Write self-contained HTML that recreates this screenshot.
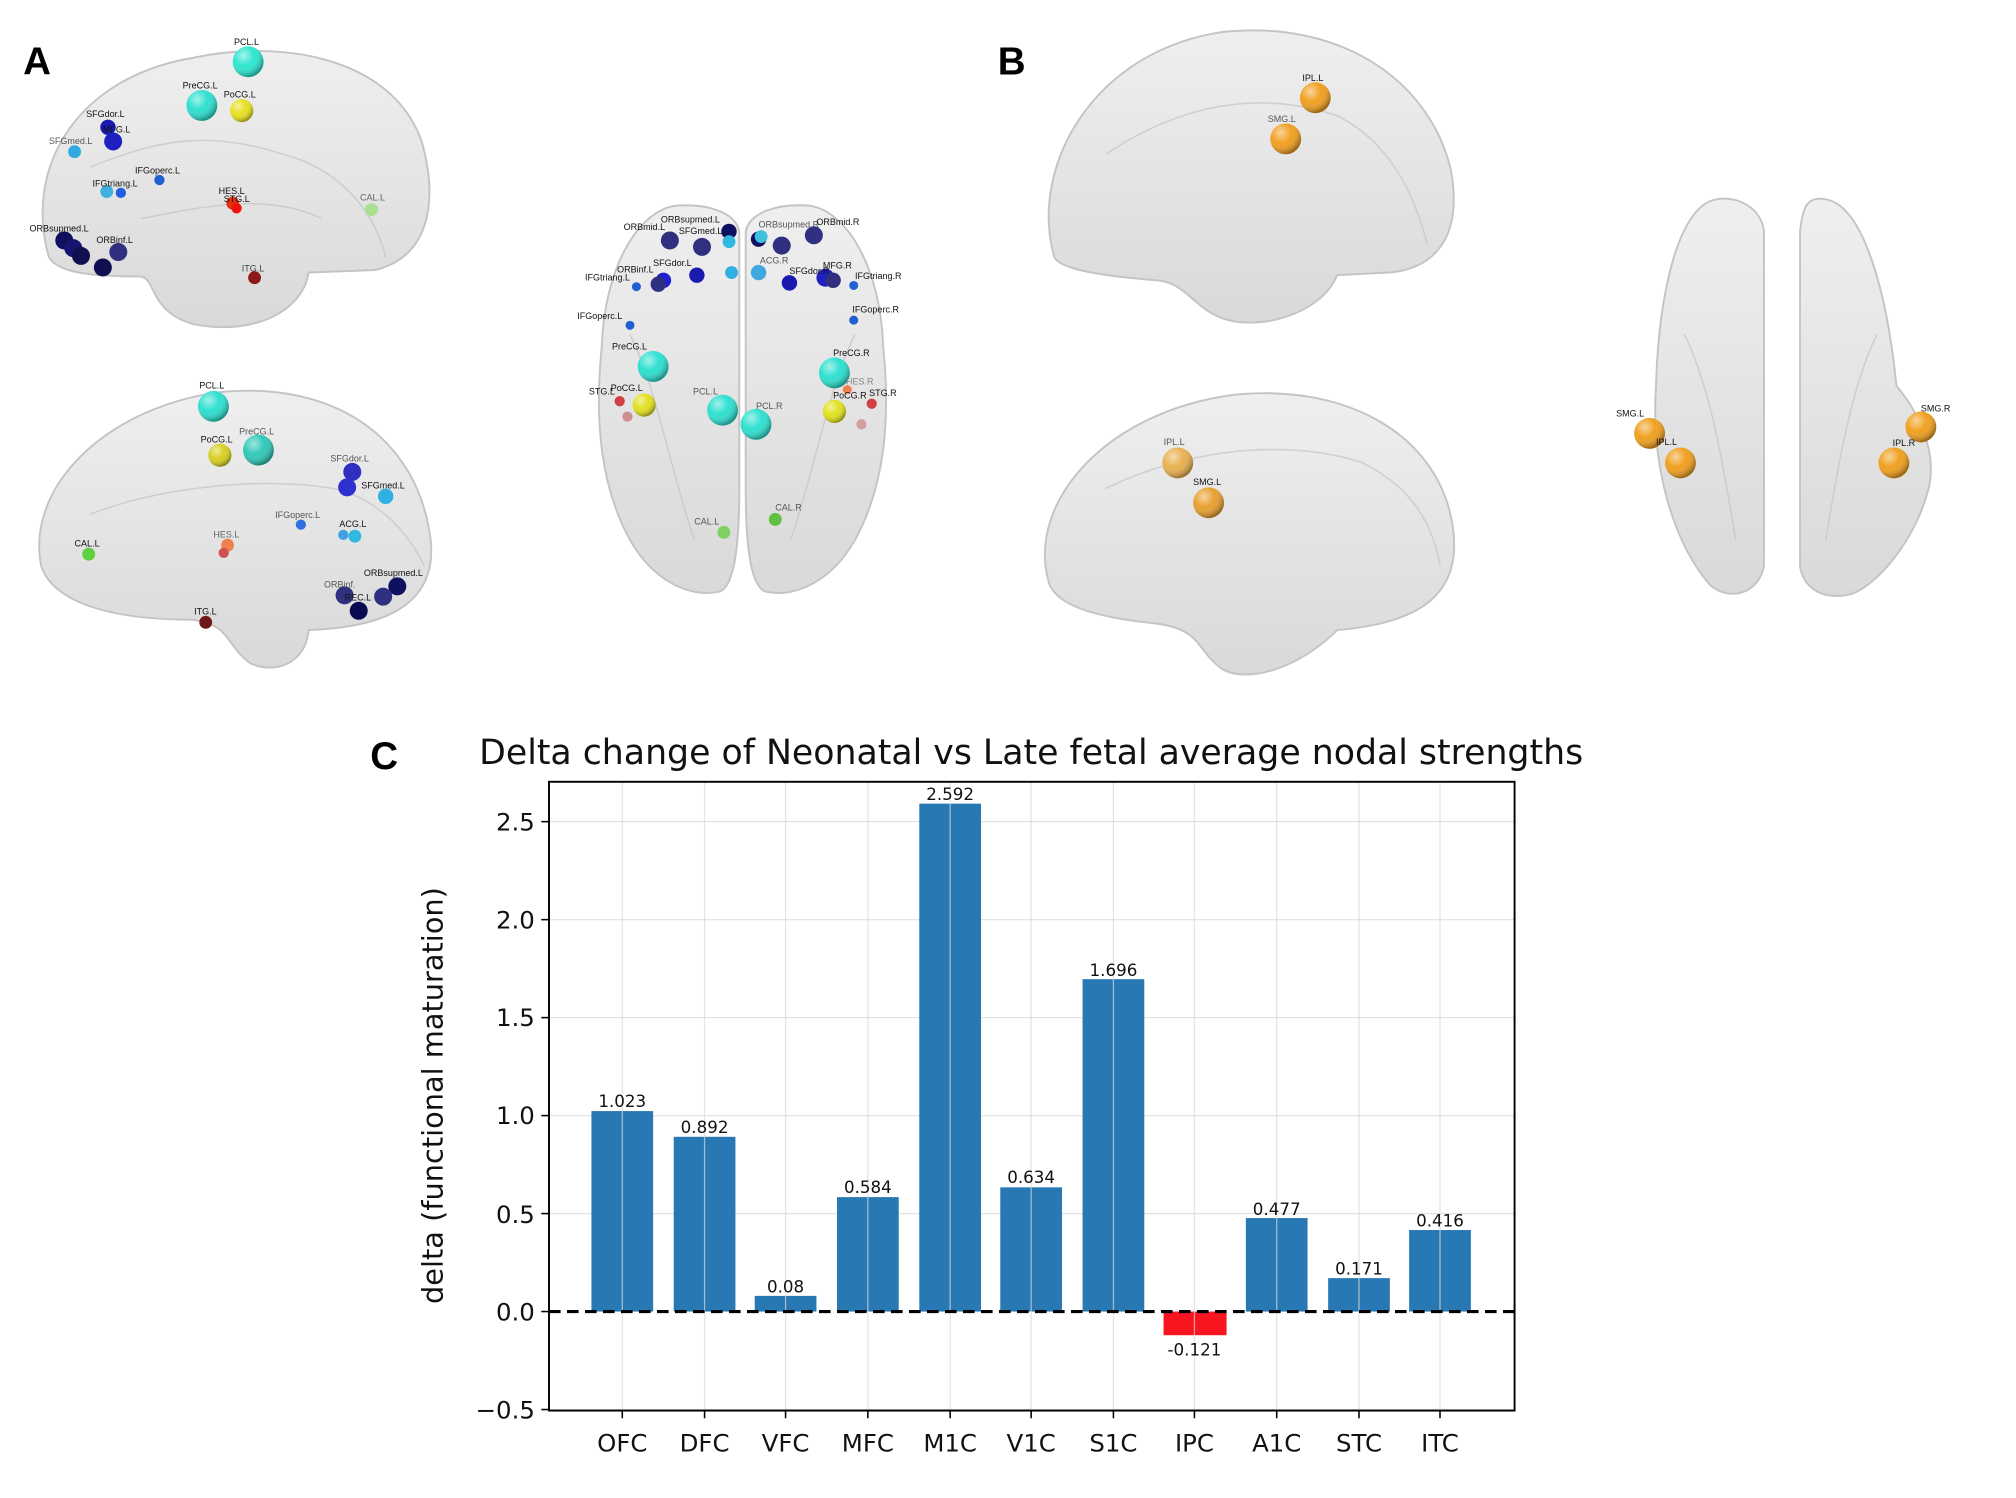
<!DOCTYPE html>
<html><head><meta charset="utf-8"><style>
html,body{margin:0;padding:0;background:#fff;}
svg{display:block;}
text{font-family:"Liberation Sans","DejaVu Sans",sans-serif;}
.dv text, text.dv{font-family:"DejaVu Sans","Liberation Sans",sans-serif;}
</style></head><body>
<svg width="2016" height="1498" viewBox="0 0 1568 1165" preserveAspectRatio="none" xmlns="http://www.w3.org/2000/svg">
<defs>
<radialGradient id="hl" cx="0.35" cy="0.3" r="0.7">
<stop offset="0" stop-color="#fff" stop-opacity="0.55"/>
<stop offset="0.5" stop-color="#fff" stop-opacity="0"/>
<stop offset="1" stop-color="#000" stop-opacity="0.35"/>
</radialGradient>
<linearGradient id="bg" x1="0" y1="0" x2="0" y2="1">
<stop offset="0" stop-color="#efefef"/><stop offset="1" stop-color="#d9d9d9"/>
</linearGradient>
</defs>
<rect width="1568" height="1165" fill="#fff"/>

<text x="18" y="58" font-size="30" font-weight="bold">A</text>
<text x="776" y="58" font-size="30" font-weight="bold">B</text>
<text x="288" y="598" font-size="30" font-weight="bold">C</text>

<g fill="url(#bg)" stroke="#c4c4c4" stroke-width="1.5">
<path d="M38,200 C18,130 60,60 150,45 C220,30 305,45 328,110 C342,160 332,200 292,210 L240,212 C236,240 200,262 150,252 C115,242 122,215 108,215 C70,215 45,212 38,200Z"/>
<path d="M32,440 C20,380 80,318 170,305 C260,296 325,340 335,420 C340,470 300,488 240,490 C238,515 215,525 195,516 C175,502 180,486 150,482 C90,482 42,470 32,440Z"/>
<path d="M525,160 C495,165 470,210 468,270 C462,330 468,380 490,420 C510,455 540,465 560,460 C572,455 575,420 575,380 L575,180 C572,165 550,158 525,160Z"/>
<path d="M630,160 C660,165 685,210 687,270 C693,330 687,380 665,420 C645,455 615,465 595,460 C583,455 580,420 580,380 L580,180 C583,165 605,158 630,160Z"/>
<path d="M820,200 C800,130 850,40 950,25 C1040,15 1110,60 1128,130 C1140,190 1110,210 1080,212 L1040,214 C1030,240 990,255 960,250 C930,245 925,220 900,218 C860,215 825,210 820,200Z"/>
<path d="M815,450 C800,390 860,320 960,307 C1050,298 1120,340 1130,410 C1138,465 1100,485 1040,490 C1010,520 970,532 950,520 C930,505 935,490 900,485 C850,480 818,470 815,450Z"/>
<path d="M1335,155 C1305,160 1290,230 1288,300 C1284,360 1300,420 1330,455 C1345,468 1368,462 1372,440 L1372,180 C1370,162 1352,152 1335,155Z"/>
<path d="M1420,155 C1450,160 1468,230 1475,300 C1500,330 1505,360 1500,380 C1490,420 1460,455 1440,462 C1415,468 1402,455 1400,440 L1400,180 C1402,162 1405,152 1420,155Z"/>
</g>
<g fill="none" stroke="#c8c8c8" stroke-width="1.2" opacity="0.8">
<path d="M70,130 C120,110 160,100 220,120 C260,130 290,160 300,200"/>
<path d="M110,170 C160,160 210,150 250,170"/>
<path d="M70,400 C120,380 200,370 260,380 C300,390 320,420 330,440"/>
<path d="M860,120 C920,80 980,70 1040,90 C1080,110 1100,150 1110,190"/>
<path d="M860,380 C920,350 1000,340 1060,360 C1100,380 1115,410 1120,440"/>
<path d="M1310,260 C1330,300 1340,360 1350,420"/><path d="M1460,260 C1440,300 1430,360 1420,420"/>
<path d="M490,260 C510,300 520,360 540,420"/><path d="M665,260 C645,300 635,360 615,420"/>
</g>

<g>
<circle cx="193" cy="48" r="12" fill="#2ee6d0"/><circle cx="157" cy="82" r="12" fill="#2ee0d0"/><circle cx="188" cy="86" r="9" fill="#e8e020"/>
<circle cx="84" cy="99" r="6" fill="#1a1ab0"/><circle cx="88" cy="110" r="7" fill="#2020c0"/><circle cx="58" cy="118" r="5" fill="#30a8e0"/>
<circle cx="124" cy="140" r="4" fill="#2060d0"/><circle cx="83" cy="149" r="5" fill="#40b0e0"/><circle cx="94" cy="150" r="4" fill="#2060e0"/>
<circle cx="181" cy="158" r="5" fill="#e03010"/><circle cx="184" cy="162" r="4" fill="#f01010"/><circle cx="289" cy="163" r="5" fill="#a8e090"/>
<circle cx="50" cy="187" r="7" fill="#101060"/><circle cx="57" cy="193" r="7" fill="#151570"/><circle cx="63" cy="199" r="7" fill="#101050"/>
<circle cx="92" cy="196" r="7" fill="#303080"/><circle cx="80" cy="208" r="7" fill="#101050"/><circle cx="198" cy="216" r="5" fill="#8a1a1a"/>
<circle cx="166" cy="316" r="12" fill="#2ee0d0"/><circle cx="201" cy="350" r="12" fill="#30c8b8"/><circle cx="171" cy="354" r="9" fill="#d8d020"/>
<circle cx="274" cy="367" r="7" fill="#3030c0"/><circle cx="270" cy="379" r="7" fill="#3030d0"/><circle cx="300" cy="386" r="6" fill="#30b0e0"/>
<circle cx="234" cy="408" r="4" fill="#3070e0"/><circle cx="267" cy="416" r="4" fill="#40a0e0"/><circle cx="276" cy="417" r="5" fill="#30b8e0"/>
<circle cx="177" cy="424" r="5" fill="#f08050"/><circle cx="174" cy="430" r="4" fill="#d05050"/><circle cx="69" cy="431" r="5" fill="#60d040"/>
<circle cx="309" cy="456" r="7" fill="#101060"/><circle cx="298" cy="464" r="7" fill="#303080"/><circle cx="268" cy="463" r="7" fill="#303080"/>
<circle cx="279" cy="475" r="7" fill="#0a0a50"/><circle cx="160" cy="484" r="5" fill="#701818"/>
<circle cx="521" cy="187" r="7" fill="#303080"/><circle cx="546" cy="192" r="7" fill="#303080"/><circle cx="567" cy="180" r="6" fill="#101060"/>
<circle cx="567" cy="188" r="5" fill="#30b8e0"/><circle cx="590" cy="186" r="6" fill="#101060"/><circle cx="592" cy="184" r="5" fill="#40c0e0"/>
<circle cx="608" cy="191" r="7" fill="#303080"/><circle cx="633" cy="183" r="7" fill="#303080"/>
<circle cx="516" cy="218" r="6" fill="#2020d0"/><circle cx="512" cy="221" r="6" fill="#303080"/><circle cx="542" cy="214" r="6" fill="#1a1ab0"/>
<circle cx="569" cy="212" r="5" fill="#30b0e0"/><circle cx="590" cy="212" r="6" fill="#40a8e0"/><circle cx="614" cy="220" r="6" fill="#1a1ab0"/>
<circle cx="642" cy="216" r="7" fill="#2020c0"/><circle cx="648" cy="218" r="6" fill="#303080"/><circle cx="495" cy="223" r="3.5" fill="#2060d0"/><circle cx="664" cy="222" r="3.5" fill="#2060d0"/>
<circle cx="490" cy="253" r="3.5" fill="#2060d0"/><circle cx="664" cy="249" r="3.5" fill="#2060d0"/>
<circle cx="508" cy="285" r="12" fill="#2ee0d0"/><circle cx="649" cy="290" r="12" fill="#2ee0d0"/>
<circle cx="482" cy="312" r="4" fill="#d04040"/><circle cx="488" cy="324" r="4" fill="#d09090"/><circle cx="501" cy="315" r="9" fill="#e0e020"/>
<circle cx="562" cy="319" r="12" fill="#2ee0d0"/><circle cx="588" cy="330" r="12" fill="#2ee0d0"/>
<circle cx="649" cy="320" r="9" fill="#e0e020"/><circle cx="678" cy="314" r="4" fill="#d04040"/><circle cx="670" cy="330" r="4" fill="#d0a0a0"/><circle cx="659" cy="303" r="3.5" fill="#f08050"/>
<circle cx="563" cy="414" r="5" fill="#80d060"/><circle cx="603" cy="404" r="5" fill="#60c040"/>
<circle cx="1023" cy="76" r="12" fill="#f0a020"/><circle cx="1000" cy="108" r="12" fill="#f0a020"/>
<circle cx="916" cy="360" r="12" fill="#e8b050"/><circle cx="940" cy="391" r="12" fill="#e8a030"/>
<circle cx="1283" cy="337" r="12" fill="#f0a020"/><circle cx="1307" cy="360" r="12" fill="#f0a020"/>
<circle cx="1494" cy="332" r="12" fill="#f0a020"/><circle cx="1473" cy="360" r="12" fill="#f0a020"/>
</g>
<g fill="url(#hl)">
<circle cx="193" cy="48" r="12"/><circle cx="157" cy="82" r="12"/><circle cx="188" cy="86" r="9"/>
<circle cx="166" cy="316" r="12"/><circle cx="201" cy="350" r="12"/><circle cx="171" cy="354" r="9"/>
<circle cx="508" cy="285" r="12"/><circle cx="649" cy="290" r="12"/><circle cx="562" cy="319" r="12"/><circle cx="588" cy="330" r="12"/>
<circle cx="501" cy="315" r="9"/><circle cx="649" cy="320" r="9"/>
<circle cx="1023" cy="76" r="12"/><circle cx="1000" cy="108" r="12"/><circle cx="916" cy="360" r="12"/><circle cx="940" cy="391" r="12"/>
<circle cx="1283" cy="337" r="12"/><circle cx="1307" cy="360" r="12"/><circle cx="1494" cy="332" r="12"/><circle cx="1473" cy="360" r="12"/>
</g>
<g font-size="7" fill="#111">
<text x="182" y="35">PCL.L</text><text x="142" y="69">PreCG.L</text><text x="174" y="76">PoCG.L</text>
<text x="67" y="91">SFGdor.L</text><text x="80" y="103">MFG.L</text><text x="38" y="112" fill="#555">SFGmed.L</text>
<text x="105" y="135">IFGoperc.L</text><text x="72" y="145">IFGtriang.L</text><text x="170" y="151">HES.L</text><text x="174" y="157">STG.L</text>
<text x="280" y="156" fill="#666">CAL.L</text><text x="23" y="180">ORBsupmed.L</text><text x="75" y="189">ORBinf.L</text><text x="188" y="211" fill="#444">ITG.L</text>
<text x="155" y="302">PCL.L</text><text x="156" y="344">PoCG.L</text><text x="186" y="338" fill="#555">PreCG.L</text><text x="257" y="359" fill="#555">SFGdor.L</text>
<text x="281" y="380">SFGmed.L</text><text x="214" y="403" fill="#555">IFGoperc.L</text><text x="264" y="410">ACG.L</text><text x="166" y="418" fill="#666">HES.L</text>
<text x="58" y="425">CAL.L</text><text x="283" y="448">ORBsupmed.L</text><text x="252" y="457" fill="#555">ORBinf.</text><text x="268" y="467">REC.L</text><text x="151" y="478">ITG.L</text>
<text x="514" y="173">ORBsupmed.L</text><text x="485" y="179">ORBmid.L</text><text x="528" y="182">SFGmed.L</text><text x="590" y="177" fill="#555">ORBsupmed.R</text><text x="635" y="175">ORBmid.R</text>
<text x="508" y="207">SFGdor.L</text><text x="455" y="218">IFGtriang.L</text><text x="480" y="212">ORBinf.L</text><text x="591" y="205" fill="#555">ACG.R</text>
<text x="614" y="213">SFGdor.R</text><text x="640" y="209">MFG.R</text><text x="665" y="217">IFGtriang.R</text><text x="449" y="248">IFGoperc.L</text><text x="663" y="243">IFGoperc.R</text>
<text x="476" y="272">PreCG.L</text><text x="648" y="277">PreCG.R</text><text x="458" y="307">STG.L</text><text x="475" y="304">PoCG.L</text><text x="539" y="307" fill="#555">PCL.L</text>
<text x="588" y="318" fill="#555">PCL.R</text><text x="648" y="310">PoCG.R</text><text x="676" y="308">STG.R</text><text x="658" y="299" fill="#888">HES.R</text>
<text x="540" y="408" fill="#555">CAL.L</text><text x="603" y="397" fill="#555">CAL.R</text>
<text x="1013" y="63">IPL.L</text><text x="986" y="95" fill="#555">SMG.L</text><text x="905" y="346" fill="#555">IPL.L</text><text x="928" y="377">SMG.L</text>
<text x="1257" y="324">SMG.L</text><text x="1288" y="346">IPL.L</text><text x="1494" y="320">SMG.R</text><text x="1472" y="347">IPL.R</text>
</g>

<text class="dv" x="802" y="594" font-size="27" text-anchor="middle" fill="#111">Delta change of Neonatal vs Late fetal average nodal strengths</text>
<g stroke="#e3e3e3" stroke-width="1">
<line x1="427" x2="1178" y1="639" y2="639"/><line x1="427" x2="1178" y1="715.2" y2="715.2"/><line x1="427" x2="1178" y1="791.4" y2="791.4"/>
<line x1="427" x2="1178" y1="867.6" y2="867.6"/><line x1="427" x2="1178" y1="943.8" y2="943.8"/>
</g>
<g fill="#2878b4">
<rect x="460" y="864.1" width="48" height="155.9"/>
<rect x="524" y="884.1" width="48" height="135.9"/>
<rect x="587" y="1007.8" width="48" height="12.2"/>
<rect x="651" y="931" width="48" height="89"/>
<rect x="715" y="625" width="48" height="395"/>
<rect x="778" y="923.4" width="48" height="96.6"/>
<rect x="842" y="761.5" width="48" height="258.5"/>
<rect x="969" y="947.3" width="48" height="72.7"/>
<rect x="1033" y="994" width="48" height="26"/>
<rect x="1096" y="956.6" width="48" height="63.4"/>
</g>
<rect x="905" y="1020" width="49" height="18.4" fill="#f81520"/>
<g stroke="#d8d8d8" stroke-opacity="0.7" stroke-width="1">
<line y1="608" y2="1097" x1="484" x2="484"/><line y1="608" y2="1097" x1="548" x2="548"/><line y1="608" y2="1097" x1="611" x2="611"/>
<line y1="608" y2="1097" x1="675" x2="675"/><line y1="608" y2="1097" x1="739" x2="739"/><line y1="608" y2="1097" x1="802" x2="802"/>
<line y1="608" y2="1097" x1="866" x2="866"/><line y1="608" y2="1097" x1="929" x2="929"/><line y1="608" y2="1097" x1="993" x2="993"/>
<line y1="608" y2="1097" x1="1057" x2="1057"/><line y1="608" y2="1097" x1="1120" x2="1120"/>
<line x1="427" x2="1178" y1="1096.2" y2="1096.2"/>
</g>
<line x1="427" x2="1178" y1="1020" y2="1020" stroke="#000" stroke-width="2.5" stroke-dasharray="9,5"/>
<rect x="427" y="608" width="751" height="489" fill="none" stroke="#000" stroke-width="1.5"/>
<g stroke="#000" stroke-width="1.2">
<line x1="421" x2="427" y1="639" y2="639"/><line x1="421" x2="427" y1="715.2" y2="715.2"/><line x1="421" x2="427" y1="791.4" y2="791.4"/>
<line x1="421" x2="427" y1="867.6" y2="867.6"/><line x1="421" x2="427" y1="943.8" y2="943.8"/><line x1="421" x2="427" y1="1020" y2="1020"/><line x1="421" x2="427" y1="1096.2" y2="1096.2"/>
<line y1="1097" y2="1103" x1="484" x2="484"/><line y1="1097" y2="1103" x1="548" x2="548"/><line y1="1097" y2="1103" x1="611" x2="611"/>
<line y1="1097" y2="1103" x1="675" x2="675"/><line y1="1097" y2="1103" x1="739" x2="739"/><line y1="1097" y2="1103" x1="802" x2="802"/>
<line y1="1097" y2="1103" x1="866" x2="866"/><line y1="1097" y2="1103" x1="929" x2="929"/><line y1="1097" y2="1103" x1="993" x2="993"/>
<line y1="1097" y2="1103" x1="1057" x2="1057"/><line y1="1097" y2="1103" x1="1120" x2="1120"/>
</g>
<g class="dv" font-size="19" text-anchor="end" fill="#111">
<text x="416" y="646">2.5</text><text x="416" y="722">2.0</text><text x="416" y="798">1.5</text><text x="416" y="874">1.0</text>
<text x="416" y="951">0.5</text><text x="416" y="1027">0.0</text><text x="416" y="1103">−0.5</text>
</g>
<g class="dv" font-size="19" text-anchor="middle" fill="#111">
<text x="484" y="1129">OFC</text><text x="548" y="1129">DFC</text><text x="611" y="1129">VFC</text><text x="675" y="1129">MFC</text>
<text x="739" y="1129">M1C</text><text x="802" y="1129">V1C</text><text x="866" y="1129">S1C</text><text x="929" y="1129">IPC</text>
<text x="993" y="1129">A1C</text><text x="1057" y="1129">STC</text><text x="1120" y="1129">ITC</text>
</g>
<g class="dv" font-size="13" text-anchor="middle" fill="#111">
<text x="484" y="861">1.023</text><text x="548" y="881">0.892</text><text x="611" y="1005">0.08</text><text x="675" y="928">0.584</text>
<text x="739" y="622">2.592</text><text x="802" y="920">0.634</text><text x="866" y="759">1.696</text><text x="929" y="1054">-0.121</text>
<text x="993" y="945">0.477</text><text x="1057" y="991">0.171</text><text x="1120" y="954">0.416</text>
</g>
<text class="dv" transform="translate(344,852) rotate(-90)" font-size="22.4" text-anchor="middle" fill="#111">delta (functional maturation)</text>
</svg>
</body></html>
